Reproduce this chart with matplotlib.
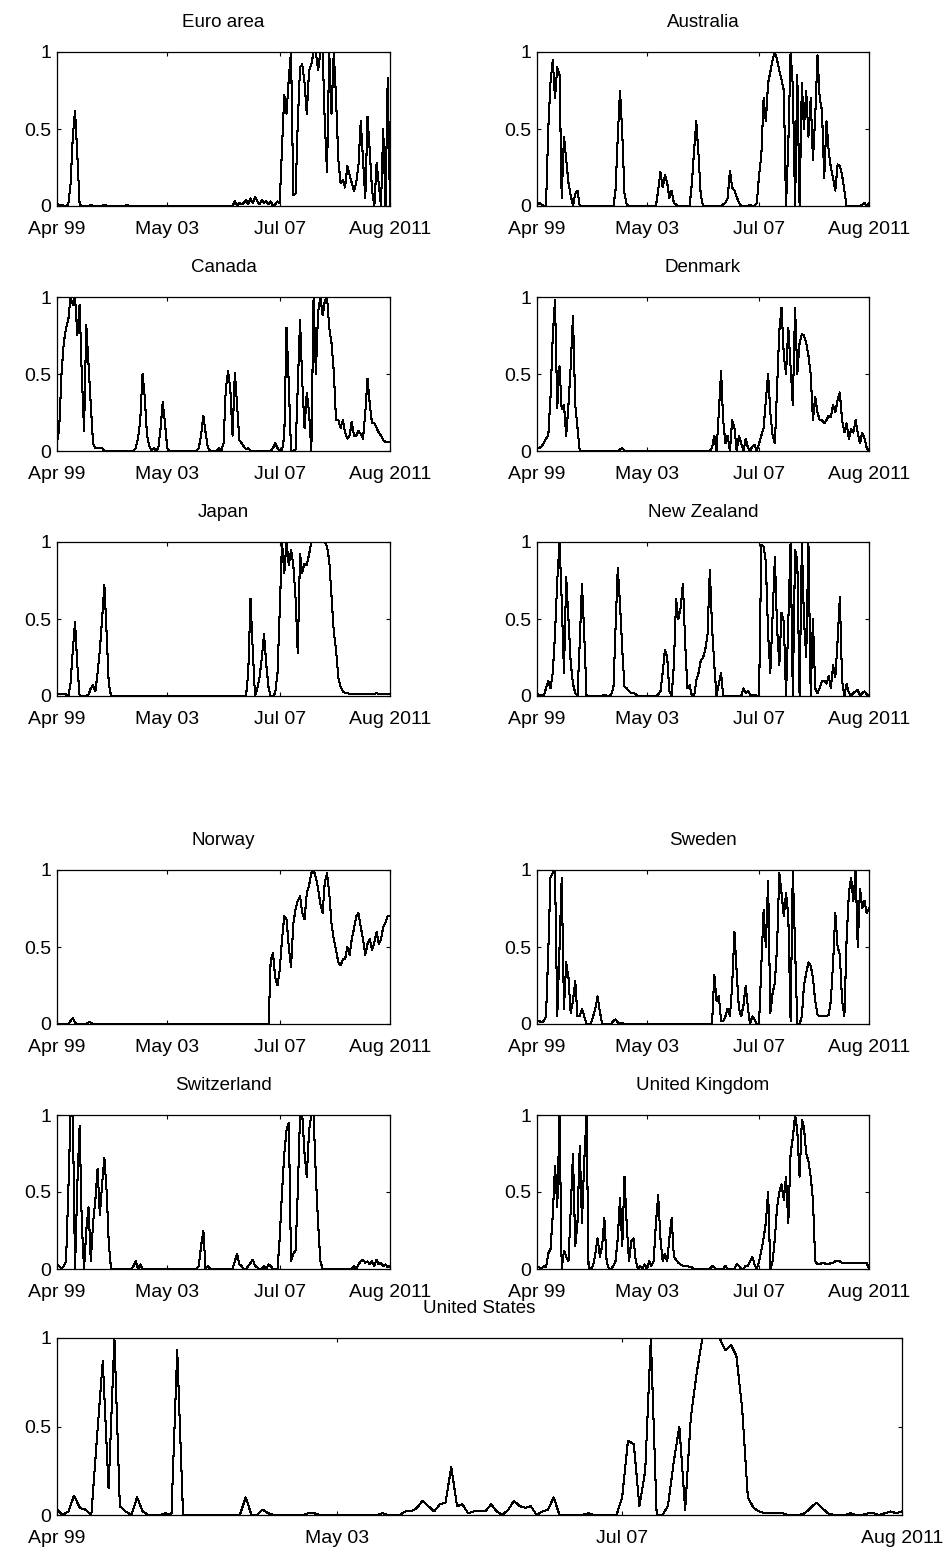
import numpy as np
import pandas as pd
import matplotlib
matplotlib.use('Agg')
import matplotlib.pyplot as plt

plt.rcParams['font.family'] = ['Liberation Sans', 'DejaVu Sans']

# monthly observations, Apr 1999 .. Aug 2011
months = pd.date_range('1999-04-01', '2011-08-01', freq='MS')
tick_dates = pd.to_datetime(['1999-04-01', '2003-05-01', '2007-07-01', '2011-08-01'])
tick_labels = ['Apr 99', 'May 03', 'Jul 07', 'Aug 2011']
ytick_vals = [0, 0.5, 1]
ytick_labels = ['0', '0.5', '1']

euro_area = [
    0.02, 0.0, 0.01, 0.0, 0.0, 0.01, 0.14, 0.45, 0.62, 0.33,
    0.01, 0.0, 0.0, 0.0, 0.0, 0.01, 0.0, 0.0, 0.0, 0.0,
    0.0, 0.01, 0.0, 0.0, 0.0, 0.0, 0.0, 0.0, 0.0, 0.0,
    0.0, 0.01, 0.0, 0.0, 0.0, 0.0, 0.0, 0.0, 0.0, 0.0,
    0.0, 0.0, 0.0, 0.0, 0.0, 0.0, 0.0, 0.0, 0.0, 0.0,
    0.0, 0.0, 0.0, 0.0, 0.0, 0.0, 0.0, 0.0, 0.0, 0.0,
    0.0, 0.0, 0.0, 0.0, 0.0, 0.0, 0.0, 0.0, 0.0, 0.0,
    0.0, 0.0, 0.0, 0.0, 0.0, 0.0, 0.0, 0.0, 0.0, 0.03,
    0.0, 0.02, 0.01, 0.02, 0.04, 0.01, 0.05, 0.02, 0.06, 0.03,
    0.01, 0.04, 0.02, 0.03, 0.01, 0.03, 0.0, 0.01, 0.03, 0.02,
    0.38, 0.72, 0.6, 0.83, 1.0, 0.07, 0.08, 0.54, 0.9, 0.92,
    0.8, 0.6, 0.88, 0.92, 1.0, 1.0, 0.88, 1.0, 1.0, 0.55,
    0.22, 1.0, 0.6, 1.0, 0.7, 0.3, 0.15, 0.17, 0.12, 0.26,
    0.2, 0.15, 0.1, 0.15, 0.27, 0.55, 0.3, 0.05, 0.58, 0.35,
    0.1, 0.0, 0.28, 0.15, 0.0, 0.5, 0.0, 0.83, 0.0]

australia = [
    0.01, 0.02, 0.01, 0.0, 0.0, 0.5, 0.8, 0.95, 0.7, 0.9,
    0.85, 0.05, 0.45, 0.3, 0.15, 0.07, 0.0, 0.08, 0.1, 0.0,
    0.0, 0.0, 0.0, 0.0, 0.0, 0.0, 0.0, 0.0, 0.0, 0.0,
    0.0, 0.0, 0.0, 0.0, 0.0, 0.1, 0.45, 0.75, 0.47, 0.08,
    0.01, 0.0, 0.0, 0.0, 0.0, 0.0, 0.0, 0.0, 0.0, 0.0,
    0.0, 0.0, 0.0, 0.0, 0.1, 0.22, 0.12, 0.2, 0.15, 0.05,
    0.1, 0.02, 0.01, 0.0, 0.0, 0.0, 0.0, 0.0, 0.0, 0.15,
    0.37, 0.55, 0.33, 0.07, 0.0, 0.0, 0.0, 0.0, 0.0, 0.0,
    0.0, 0.0, 0.0, 0.01, 0.02, 0.05, 0.23, 0.12, 0.1, 0.06,
    0.02, 0.0, 0.0, 0.0, 0.0, 0.01, 0.0, 0.0, 0.02, 0.2,
    0.33, 0.7, 0.55, 0.8, 0.87, 0.95, 1.0, 0.95, 0.88, 0.82,
    0.75, 0.0, 0.4, 1.0, 0.78, 0.0, 0.85, 0.0, 0.8, 0.5,
    0.75, 0.45, 0.7, 0.3, 0.58, 0.98, 0.7, 0.62, 0.18, 0.55,
    0.35, 0.25, 0.18, 0.1, 0.27, 0.26, 0.2, 0.1, 0.0, 0.0,
    0.0, 0.0, 0.0, 0.0, 0.0, 0.01, 0.02, 0.0, 0.02]

canada = [
    0.05, 0.15, 0.5, 0.7, 0.8, 0.85, 1.0, 0.95, 1.0, 0.75,
    0.95, 0.5, 0.13, 0.82, 0.55, 0.3, 0.05, 0.02, 0.02, 0.02,
    0.02, 0.0, 0.0, 0.0, 0.0, 0.0, 0.0, 0.0, 0.0, 0.0,
    0.0, 0.0, 0.0, 0.0, 0.0, 0.02, 0.08, 0.2, 0.5, 0.35,
    0.1, 0.03, 0.0, 0.02, 0.0, 0.02, 0.15, 0.32, 0.18, 0.02,
    0.0, 0.0, 0.0, 0.0, 0.0, 0.0, 0.0, 0.0, 0.0, 0.0,
    0.0, 0.0, 0.0, 0.02, 0.1, 0.23, 0.12, 0.02, 0.0, 0.0,
    0.0, 0.0, 0.02, 0.0, 0.05, 0.4, 0.52, 0.4, 0.1, 0.51,
    0.3, 0.07, 0.05, 0.03, 0.01, 0.02, 0.0, 0.0, 0.0, 0.0,
    0.0, 0.0, 0.0, 0.0, 0.0, 0.0, 0.02, 0.05, 0.02, 0.0,
    0.0, 0.1, 0.8, 0.43, 0.0, 0.0, 0.01, 0.41, 0.85, 0.45,
    0.15, 0.38, 0.25, 0.0, 1.0, 0.5, 0.9, 1.0, 0.88, 0.97,
    1.0, 0.8, 0.7, 0.52, 0.2, 0.2, 0.15, 0.2, 0.12, 0.08,
    0.1, 0.19, 0.1, 0.1, 0.13, 0.11, 0.08, 0.25, 0.47, 0.3,
    0.18, 0.18, 0.15, 0.12, 0.1, 0.07, 0.06, 0.06, 0.06]

denmark = [
    0.02, 0.02, 0.03, 0.05, 0.08, 0.1, 0.35, 0.75, 0.98, 0.28,
    0.55, 0.27, 0.3, 0.1, 0.3, 0.55, 0.88, 0.3, 0.15, 0.0,
    0.0, 0.0, 0.0, 0.0, 0.0, 0.0, 0.0, 0.0, 0.0, 0.0,
    0.0, 0.0, 0.0, 0.0, 0.0, 0.0, 0.0, 0.01, 0.02, 0.0,
    0.0, 0.0, 0.0, 0.0, 0.0, 0.0, 0.0, 0.0, 0.0, 0.0,
    0.0, 0.0, 0.0, 0.0, 0.0, 0.0, 0.0, 0.0, 0.0, 0.0,
    0.0, 0.0, 0.0, 0.0, 0.0, 0.0, 0.0, 0.0, 0.0, 0.0,
    0.0, 0.0, 0.0, 0.0, 0.0, 0.0, 0.0, 0.0, 0.02, 0.1,
    0.0, 0.25, 0.52, 0.2, 0.05, 0.1, 0.0, 0.2, 0.15, 0.0,
    0.1, 0.05, 0.0, 0.08, 0.02, 0.0, 0.03, 0.04, 0.0, 0.05,
    0.1, 0.15, 0.33, 0.5, 0.25, 0.1, 0.05, 0.4, 0.78, 0.93,
    0.62, 0.5, 0.8, 0.55, 0.3, 0.93, 0.5, 0.7, 0.76, 0.75,
    0.7, 0.62, 0.5, 0.2, 0.35, 0.25, 0.2, 0.2, 0.18, 0.2,
    0.23, 0.22, 0.3, 0.25, 0.33, 0.38, 0.2, 0.12, 0.18, 0.08,
    0.14, 0.12, 0.2, 0.12, 0.05, 0.12, 0.08, 0.02, 0.0]

japan = [
    0.01, 0.01, 0.01, 0.01, 0.01, 0.0, 0.08, 0.3, 0.48, 0.2,
    0.0, 0.0, 0.0, 0.0, 0.01, 0.05, 0.07, 0.03, 0.15, 0.3,
    0.5, 0.72, 0.4, 0.08, 0.0, 0.0, 0.0, 0.0, 0.0, 0.0,
    0.0, 0.0, 0.0, 0.0, 0.0, 0.0, 0.0, 0.0, 0.0, 0.0,
    0.0, 0.0, 0.0, 0.0, 0.0, 0.0, 0.0, 0.0, 0.0, 0.0,
    0.0, 0.0, 0.0, 0.0, 0.0, 0.0, 0.0, 0.0, 0.0, 0.0,
    0.0, 0.0, 0.0, 0.0, 0.0, 0.0, 0.0, 0.0, 0.0, 0.0,
    0.0, 0.0, 0.0, 0.0, 0.0, 0.0, 0.0, 0.0, 0.0, 0.0,
    0.0, 0.0, 0.0, 0.0, 0.0, 0.15, 0.63, 0.3, 0.0, 0.05,
    0.12, 0.25, 0.4, 0.2, 0.05, 0.0, 0.0, 0.02, 0.15, 0.55,
    1.0, 0.8, 1.0, 0.85, 0.95, 0.85, 0.63, 0.28, 0.92, 0.8,
    0.86, 0.85, 0.92, 1.0, 1.0, 1.0, 1.0, 1.0, 1.0, 1.0,
    0.97, 0.88, 0.65, 0.42, 0.3, 0.12, 0.06, 0.03, 0.02, 0.02,
    0.01, 0.01, 0.01, 0.01, 0.01, 0.01, 0.01, 0.01, 0.01, 0.01,
    0.01, 0.01, 0.02, 0.01, 0.01, 0.01, 0.01, 0.01, 0.01]

new_zealand = [
    0.02, 0.0, 0.01, 0.0, 0.05, 0.1, 0.05, 0.15, 0.4, 0.75,
    1.0, 0.62, 0.15, 0.77, 0.5, 0.22, 0.08, 0.02, 0.0, 0.35,
    0.73, 0.4, 0.0, 0.0, 0.0, 0.0, 0.0, 0.0, 0.0, 0.0,
    0.01, 0.0, 0.0, 0.01, 0.05, 0.43, 0.83, 0.6, 0.3, 0.06,
    0.05, 0.03, 0.02, 0.02, 0.01, 0.0, 0.0, 0.0, 0.0, 0.0,
    0.0, 0.0, 0.0, 0.0, 0.01, 0.03, 0.15, 0.3, 0.25, 0.03,
    0.0, 0.2, 0.63, 0.5, 0.57, 0.73, 0.35, 0.05, 0.07, 0.0,
    0.0, 0.1, 0.15, 0.23, 0.25, 0.3, 0.4, 0.82, 0.45, 0.2,
    0.0, 0.08, 0.15, 0.0, 0.0, 0.0, 0.0, 0.0, 0.0, 0.0,
    0.0, 0.0, 0.05, 0.02, 0.03, 0.01, 0.0, 0.01, 0.0, 0.0,
    0.98, 0.97, 0.87, 0.4, 0.15, 0.53, 0.9, 0.45, 0.2, 0.54,
    0.48, 0.0, 0.48, 1.0, 0.0, 0.95, 0.88, 0.0, 1.0, 0.5,
    0.25, 1.0, 0.0, 0.5, 0.05, 0.02, 0.05, 0.1, 0.1, 0.08,
    0.13, 0.05, 0.2, 0.12, 0.36, 0.64, 0.1, 0.0, 0.08, 0.02,
    0.0, 0.02, 0.03, 0.04, 0.0, 0.02, 0.03, 0.01, 0.0]

norway = [
    0.0, 0.0, 0.0, 0.0, 0.0, 0.0, 0.02, 0.04, 0.01, 0.0,
    0.0, 0.0, 0.0, 0.0, 0.01, 0.01, 0.0, 0.0, 0.0, 0.0,
    0.0, 0.0, 0.0, 0.0, 0.0, 0.0, 0.0, 0.0, 0.0, 0.0,
    0.0, 0.0, 0.0, 0.0, 0.0, 0.0, 0.0, 0.0, 0.0, 0.0,
    0.0, 0.0, 0.0, 0.0, 0.0, 0.0, 0.0, 0.0, 0.0, 0.0,
    0.0, 0.0, 0.0, 0.0, 0.0, 0.0, 0.0, 0.0, 0.0, 0.0,
    0.0, 0.0, 0.0, 0.0, 0.0, 0.0, 0.0, 0.0, 0.0, 0.0,
    0.0, 0.0, 0.0, 0.0, 0.0, 0.0, 0.0, 0.0, 0.0, 0.0,
    0.0, 0.0, 0.0, 0.0, 0.0, 0.0, 0.0, 0.0, 0.0, 0.0,
    0.0, 0.0, 0.0, 0.0, 0.0, 0.42, 0.46, 0.3, 0.25, 0.35,
    0.55, 0.7, 0.68, 0.5, 0.37, 0.65, 0.75, 0.8, 0.83, 0.72,
    0.68, 0.85, 0.9, 0.98, 1.0, 0.95, 0.88, 0.78, 0.72, 0.92,
    0.98, 0.85, 0.65, 0.55, 0.48, 0.4, 0.38, 0.42, 0.42, 0.5,
    0.45, 0.55, 0.62, 0.7, 0.72, 0.63, 0.55, 0.45, 0.52, 0.55,
    0.48, 0.53, 0.6, 0.52, 0.55, 0.63, 0.66, 0.7, 0.7]

sweden = [
    0.02, 0.02, 0.01, 0.02, 0.05, 0.47, 0.95, 0.98, 1.0, 0.05,
    0.5, 0.95, 0.1, 0.4, 0.3, 0.07, 0.15, 0.28, 0.05, 0.05,
    0.1, 0.05, 0.0, 0.0, 0.0, 0.05, 0.1, 0.18, 0.08, 0.0,
    0.0, 0.0, 0.0, 0.0, 0.02, 0.03, 0.01, 0.0, 0.01, 0.0,
    0.0, 0.0, 0.0, 0.0, 0.0, 0.0, 0.0, 0.0, 0.0, 0.0,
    0.0, 0.0, 0.0, 0.0, 0.0, 0.0, 0.0, 0.0, 0.0, 0.0,
    0.0, 0.0, 0.0, 0.0, 0.0, 0.0, 0.0, 0.0, 0.0, 0.0,
    0.0, 0.0, 0.0, 0.0, 0.0, 0.0, 0.0, 0.0, 0.0, 0.32,
    0.15, 0.18, 0.02, 0.02, 0.05, 0.1, 0.05, 0.25, 0.6, 0.33,
    0.1, 0.05, 0.12, 0.25, 0.1, 0.0, 0.05, 0.03, 0.0, 0.0,
    0.38, 0.74, 0.5, 0.93, 0.07, 0.2, 0.27, 0.5, 0.98, 0.85,
    0.7, 0.85, 0.7, 0.02, 1.0, 0.5, 0.0, 0.0, 0.05, 0.25,
    0.33, 0.4, 0.38, 0.3, 0.15, 0.06, 0.05, 0.05, 0.05, 0.05,
    0.06, 0.15, 0.4, 0.72, 0.5, 0.45, 0.15, 0.05, 0.55, 0.85,
    0.95, 0.8, 1.0, 0.5, 0.88, 0.75, 0.8, 0.72, 0.75]

switzerland = [
    0.03, 0.02, 0.0, 0.02, 0.05, 0.5, 1.0, 1.0, 0.0, 0.55,
    0.93, 0.3, 0.0, 0.25, 0.4, 0.05, 0.3, 0.45, 0.65, 0.35,
    0.55, 0.72, 0.5, 0.17, 0.0, 0.0, 0.0, 0.0, 0.0, 0.0,
    0.0, 0.0, 0.0, 0.0, 0.02, 0.05, 0.0, 0.03, 0.0, 0.0,
    0.0, 0.0, 0.0, 0.0, 0.0, 0.0, 0.0, 0.0, 0.0, 0.0,
    0.0, 0.0, 0.0, 0.0, 0.0, 0.0, 0.0, 0.0, 0.0, 0.0,
    0.0, 0.0, 0.0, 0.02, 0.15, 0.25, 0.0, 0.02, 0.0, 0.0,
    0.0, 0.0, 0.0, 0.0, 0.0, 0.0, 0.0, 0.0, 0.0, 0.05,
    0.1, 0.03, 0.02, 0.0, 0.0, 0.02, 0.04, 0.06, 0.02, 0.01,
    0.0, 0.0, 0.02, 0.0, 0.03, 0.02, 0.0, 0.0, 0.0, 0.2,
    0.5, 0.75, 0.9, 0.95, 0.05, 0.1, 0.12, 0.5, 1.0, 1.0,
    0.75, 0.6, 0.9, 1.0, 1.0, 0.6, 0.3, 0.05, 0.0, 0.0,
    0.0, 0.0, 0.0, 0.0, 0.0, 0.0, 0.0, 0.0, 0.0, 0.0,
    0.0, 0.0, 0.02, 0.0, 0.03, 0.05, 0.06, 0.04, 0.05, 0.03,
    0.05, 0.02, 0.06, 0.03, 0.04, 0.02, 0.03, 0.01, 0.02]

united_kingdom = [
    0.01, 0.01, 0.0, 0.02, 0.01, 0.1, 0.13, 0.35, 0.67, 0.4,
    1.0, 0.0, 0.12, 0.08, 0.05, 0.38, 0.75, 0.15, 0.3, 0.8,
    0.3, 0.7, 1.0, 0.0, 0.0, 0.02, 0.1, 0.2, 0.08, 0.15,
    0.33, 0.05, 0.0, 0.0, 0.02, 0.05, 0.2, 0.46, 0.15, 0.6,
    0.28, 0.05, 0.18, 0.2, 0.05, 0.0, 0.02, 0.0, 0.03, 0.0,
    0.05, 0.02, 0.05, 0.3, 0.48, 0.2, 0.05, 0.1, 0.05, 0.2,
    0.33, 0.08, 0.06, 0.04, 0.03, 0.02, 0.02, 0.02, 0.01, 0.01,
    0.0, 0.0, 0.0, 0.0, 0.0, 0.0, 0.0, 0.0, 0.02, 0.01,
    0.0, 0.0, 0.0, 0.0, 0.02, 0.0, 0.0, 0.0, 0.0, 0.03,
    0.02, 0.0, 0.0, 0.02, 0.02, 0.05, 0.08, 0.03, 0.0, 0.05,
    0.12, 0.2, 0.3, 0.5, 0.0, 0.05, 0.2, 0.4, 0.5, 0.55,
    0.45, 0.6, 0.3, 0.75, 0.85, 1.0, 0.9, 0.6, 0.97, 0.92,
    0.75, 0.7, 0.6, 0.45, 0.05, 0.03, 0.03, 0.04, 0.04, 0.03,
    0.03, 0.04, 0.04, 0.05, 0.05, 0.05, 0.04, 0.04, 0.04, 0.04,
    0.04, 0.04, 0.04, 0.04, 0.04, 0.04, 0.04, 0.04, 0.0]

united_states = [
    0.03, 0.0, 0.02, 0.11, 0.04, 0.03, 0.0, 0.45, 0.87, 0.15,
    1.0, 0.05, 0.02, 0.0, 0.1, 0.02, 0.0, 0.0, 0.0, 0.01,
    0.0, 0.93, 0.0, 0.0, 0.0, 0.0, 0.0, 0.0, 0.0, 0.0,
    0.0, 0.0, 0.0, 0.1, 0.0, 0.0, 0.03, 0.01, 0.0, 0.0,
    0.0, 0.0, 0.0, 0.0, 0.01, 0.01, 0.0, 0.0, 0.0, 0.0,
    0.0, 0.0, 0.0, 0.0, 0.0, 0.0, 0.0, 0.01, 0.0, 0.0,
    0.0, 0.02, 0.02, 0.04, 0.08, 0.05, 0.02, 0.06, 0.07, 0.27,
    0.05, 0.06, 0.01, 0.02, 0.02, 0.02, 0.06, 0.02, 0.0, 0.03,
    0.08, 0.05, 0.04, 0.05, 0.0, 0.02, 0.03, 0.1, 0.0, 0.0,
    0.0, 0.0, 0.0, 0.01, 0.0, 0.0, 0.0, 0.0, 0.0, 0.1,
    0.42, 0.4, 0.05, 0.25, 1.0, 0.0, 0.0, 0.05, 0.3, 0.5,
    0.03, 0.55, 0.8, 1.0, 1.0, 1.0, 1.0, 0.93, 0.96, 0.9,
    0.6, 0.1, 0.04, 0.02, 0.01, 0.01, 0.01, 0.01, 0.0, 0.0,
    0.0, 0.01, 0.04, 0.07, 0.04, 0.01, 0.0, 0.0, 0.0, 0.01,
    0.0, 0.0, 0.01, 0.01, 0.0, 0.01, 0.02, 0.01, 0.02]

titles = ['Euro area', 'Australia', 'Canada', 'Denmark', 'Japan', 'New Zealand',
          'Norway', 'Sweden', 'Switzerland', 'United Kingdom', 'United States']
series = [euro_area, australia, canada, denmark, japan, new_zealand,
          norway, sweden, switzerland, united_kingdom, united_states]

# axes boxes in pixels (left, top, right, bottom)
W, H = 949, 1552
lx, rx = (57, 390), (537, 869)
rows = [(52, 206), (297, 451), (542, 696), (870, 1024), (1115, 1269)]
boxes = []
for top, bot in rows:
    boxes.append((lx[0], top, lx[1], bot))
    boxes.append((rx[0], top, rx[1], bot))
boxes.append((57, 1338, 902, 1515))

fig = plt.figure(figsize=(W / 100, H / 100), dpi=100)
for title, vals, (x0, y0, x1, y1) in zip(titles, series, boxes):
    ax = fig.add_axes([x0 / W, 1 - y1 / H, (x1 - x0) / W, (y1 - y0) / H])
    ax.plot(months, vals, color='black', lw=0.75, antialiased=False)
    ax.set_xlim(months[0], months[-1])
    ax.set_ylim(0, 1)
    ax.set_xticks(tick_dates)
    ax.set_xticklabels(tick_labels)
    ax.set_yticks(ytick_vals)
    ax.set_yticklabels(ytick_labels)
    ax.tick_params(direction='in', length=3, width=0.8, top=True, right=True,
                   labelsize=14, pad=4)
    ax.tick_params(axis='x', pad=11)
    for s in ax.spines.values():
        s.set_linewidth(0.9)
    ax.set_title(title, fontsize=13.5, pad=18)

fig.savefig('out.png', dpi=100, facecolor='white')
